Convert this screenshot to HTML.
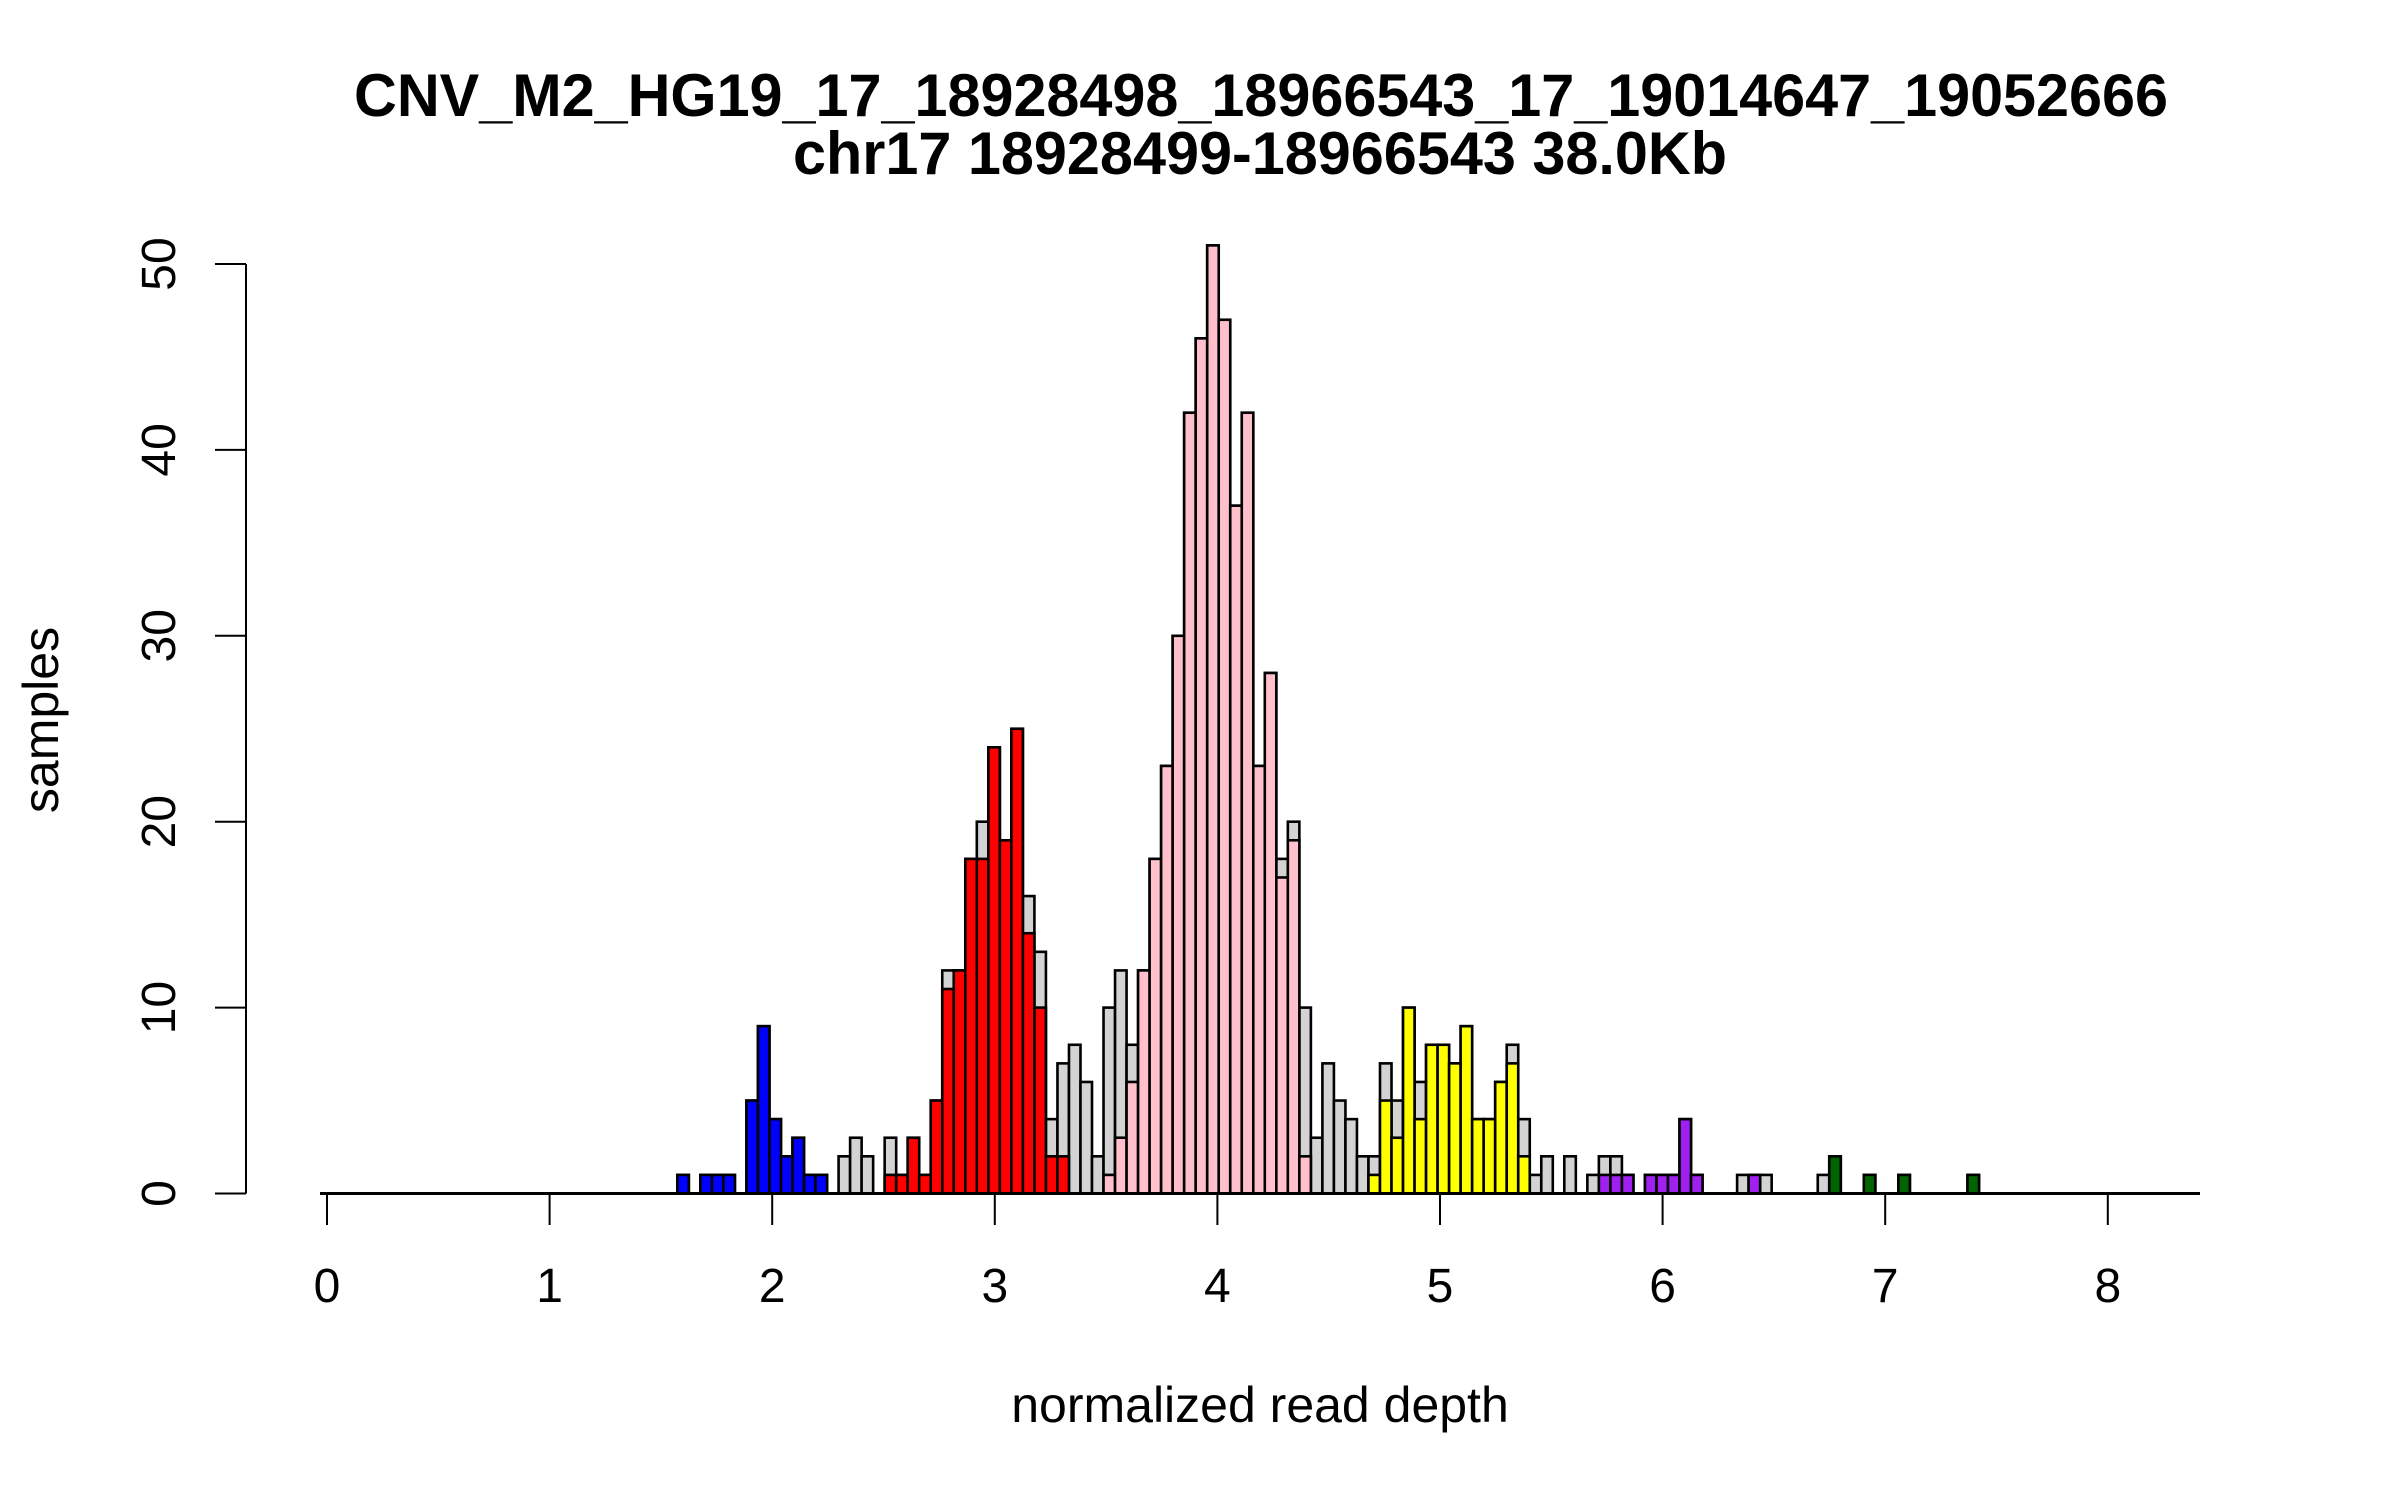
<!DOCTYPE html>
<html><head><meta charset="utf-8"><style>
html,body{margin:0;padding:0;background:#fff;}
svg{display:block;}
text{font-family:"Liberation Sans",Arial,sans-serif;fill:#000;}
</style></head>
<body>
<svg id="chart" width="2400" height="1500" viewBox="0 0 2400 1500" xmlns="http://www.w3.org/2000/svg">
<rect x="0" y="0" width="2400" height="1500" fill="#fff"/>
<text x="1261" y="116" font-size="60" font-weight="bold" text-anchor="middle" textLength="1814" lengthAdjust="spacingAndGlyphs">CNV_M2_HG19_17_18928498_18966543_17_19014647_19052666</text>
<text x="1260" y="174" font-size="60" font-weight="bold" text-anchor="middle" textLength="934" lengthAdjust="spacingAndGlyphs">chr17 18928499-18966543 38.0Kb</text>
<text x="1260" y="1422" font-size="50" text-anchor="middle">normalized read depth</text>
<text x="0" y="0" font-size="50" text-anchor="middle" transform="translate(58,720) rotate(-90)">samples</text>
<g id="bars"></g>
<g id="axes"></g>
</svg>
<script>
const binStart = 1.5737;
const binWidth = 0.05175;
const totals = [1,0,1,1,1,0,5,9,4,2,3,1,1,0,2,3,2,0,3,1,3,1,5,12,12,18,20,24,19,25,16,13,4,7,8,6,2,10,12,8,12,18,23,30,42,46,51,47,37,42,23,28,18,20,10,3,7,5,4,2,2,7,5,10,6,8,8,7,9,4,4,6,8,4,1,2,0,2,0,1,2,2,1,0,1,1,1,4,1,0,0,0,1,1,1,0,0,0,0,1,2,0,0,1,0,0,1,0,0,0,0,0,1];
const coloredCounts = [1,0,1,1,1,0,5,9,4,2,3,1,1,0,0,0,0,0,1,1,3,1,5,11,12,18,18,24,19,25,14,10,2,2,0,0,0,1,3,6,12,18,23,30,42,46,51,47,37,42,23,28,17,19,2,0,0,0,0,0,1,5,3,10,4,8,8,7,9,4,4,6,7,2,0,0,0,0,0,0,1,1,1,0,1,1,1,4,1,0,0,0,0,1,0,0,0,0,0,0,2,0,0,1,0,0,1,0,0,0,0,0,1];
const groupOf = ["blue","blue","blue","blue","blue","blue","blue","blue","blue","blue","blue","blue","blue","","","","","","red","red","red","red","red","red","red","red","red","red","red","red","red","red","red","red","","","","pink","pink","pink","pink","pink","pink","pink","pink","pink","pink","pink","pink","pink","pink","pink","pink","pink","pink","","","","","","yellow","yellow","yellow","yellow","yellow","yellow","yellow","yellow","yellow","yellow","yellow","yellow","yellow","yellow","","","","","","","purple","purple","purple","purple","purple","purple","purple","purple","purple","purple","purple","purple","purple","purple","","","","","","","green","green","green","green","green","green","green","green","green","green","green","green","green"];
const xTicks = [0,1,2,3,4,5,6,7,8];
const yTicks = [0,10,20,30,40,50];
const groupColors = {blue:"#0000ff",red:"#ff0000",pink:"#ffc0cb",yellow:"#ffff00",purple:"#a020f0",green:"#006400"};

const NS = "http://www.w3.org/2000/svg";
function xs(v){ return 327 + v*222.6; }
function ys(v){ return 1193.5 - v*18.59; }
const barsG = document.getElementById('bars');
const axesG = document.getElementById('axes');
function mk(tag, attrs, parent){
  const e = document.createElementNS(NS, tag);
  for (const k in attrs) e.setAttribute(k, attrs[k]);
  parent.appendChild(e);
  return e;
}
totals.forEach((t, i) => {
  if (t <= 0) return;
  const x0 = xs(binStart + i*binWidth), x1 = xs(binStart + (i+1)*binWidth);
  const r = mk('rect', {x:x0, y:ys(t), width:x1-x0, height:ys(0)-ys(t), fill:'#d3d3d3', stroke:'#000', 'stroke-width':2.6}, barsG);
  
  
});
coloredCounts.forEach((c, i) => {
  if (c <= 0 || !groupOf[i]) return;
  const x0 = xs(binStart + i*binWidth), x1 = xs(binStart + (i+1)*binWidth);
  const r = mk('rect', {x:x0, y:ys(c), width:x1-x0, height:ys(0)-ys(c), fill:groupColors[groupOf[i]], stroke:'#000', 'stroke-width':2.6}, barsG);
  
  
});
const bl = mk('line', {x1:320, y1:ys(0), x2:2200, y2:ys(0), stroke:'#000', 'stroke-width':3}, axesG);


xTicks.forEach(v => {
  const t = mk('line', {x1:xs(v), y1:ys(0), x2:xs(v), y2:1225, stroke:'#000', 'stroke-width':2}, axesG);
  
  
  const l = mk('text', {x:xs(v), y:1302, 'font-size':48, 'text-anchor':'middle'}, axesG);
  l.textContent = String(v);
  
  
});
const ya = mk('line', {x1:246, y1:ys(yTicks[yTicks.length-1]), x2:246, y2:ys(0), stroke:'#000', 'stroke-width':2}, axesG);


yTicks.forEach(v => {
  const t = mk('line', {x1:215, y1:ys(v), x2:246, y2:ys(v), stroke:'#000', 'stroke-width':2}, axesG);
  
  
  const l = mk('text', {x:0, y:0, 'font-size':48, 'text-anchor':'middle', transform:'translate(175,' + ys(v) + ') rotate(-90)'}, axesG);
  l.textContent = String(v);
  
  
});
</script>
</body></html>
